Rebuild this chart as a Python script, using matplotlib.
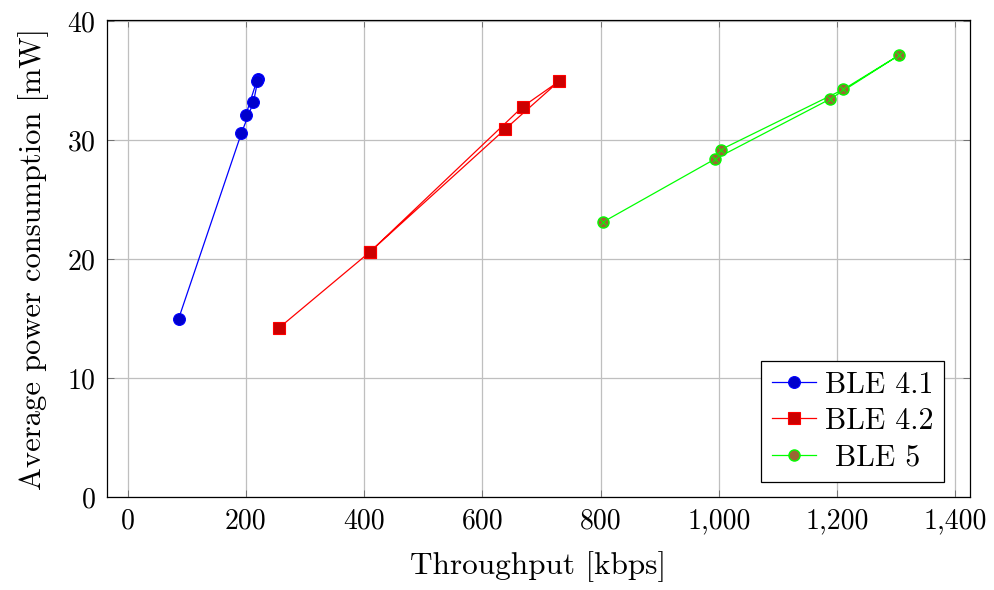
import matplotlib
matplotlib.use("Agg")
import matplotlib.pyplot as plt
from matplotlib.ticker import FuncFormatter

# donnees (debit en kbps, puissance en mW)
ble41_x = [86.3, 192.5, 212.8, 220.6, 218.5, 199.8]
ble41_y = [15.0, 30.6, 33.2, 35.15, 35.0, 32.1]

ble42_x = [255.6, 409.7, 638.0, 729.6, 668.0, 409.7]
ble42_y = [14.2, 20.6, 30.9, 34.95, 32.8, 20.6]

ble5_x = [803.5, 993.0, 1188.0, 1304.7, 1210.4, 1003.3]
ble5_y = [23.1, 28.4, 33.45, 37.14, 34.26, 29.2]

labels = ["BLE 4.1", "BLE 4.2", " BLE 5"]
xticks = [0, 200, 400, 600, 800, 1000, 1200, 1400]
yticks = [0, 10, 20, 30, 40]

plt.rcParams["font.family"] = "serif"
plt.rcParams["font.serif"] = ["cmr10", "DejaVu Serif"]
plt.rcParams["mathtext.fontset"] = "cm"
plt.rcParams["axes.formatter.use_mathtext"] = True

fig = plt.figure(figsize=(9.95, 5.9), dpi=100)
ax = fig.add_axes([0.1075, 0.1576, 0.8675, 0.8085])

ax.plot(ble41_x, ble41_y, color=(0, 0, 1), lw=0.9, marker="o", ms=8.5,
        mfc=(0, 0, 0.8), mec=(0, 0, 1), mew=0.8, label=labels[0], zorder=3)
ax.plot(ble42_x, ble42_y, color=(1, 0, 0), lw=0.9, marker="s", ms=8,
        mfc=(0.8, 0, 0), mec=(1, 0, 0), mew=0.8, label=labels[1], zorder=3)
ax.plot(ble5_x, ble5_y, color=(0, 1, 0), lw=0.9, marker="o", ms=8,
        mfc=(0.6, 0.4, 0.2), mec=(0, 1, 0), mew=1.0, label=labels[2], zorder=3)
# croix du marqueur otimes
ax.plot(ble5_x, ble5_y, ls="none", marker="x", ms=5, mec=(0, 1, 0), mew=0.8, zorder=4)

ax.set_xlim(-35, 1425)
ax.set_ylim(0, 40.1)
ax.set_xticks(xticks)
ax.set_yticks(yticks)
ax.xaxis.set_major_formatter(FuncFormatter(lambda v, p: "{:,}".format(int(v))))
ax.grid(True, color=(0.75, 0.75, 0.75), lw=0.9)
ax.set_axisbelow(True)
ax.tick_params(direction="in", top=True, right=True, length=5, width=0.6,
               color=(0.4, 0.4, 0.4), labelsize=20, pad=8)
for s in ax.spines.values():
    s.set_linewidth(0.9)

ax.set_xlabel("Throughput [kbps]", fontsize=22.5, labelpad=12)
ax.set_ylabel("Average power consumption [mW]", fontsize=22, labelpad=13)

leg = ax.legend(loc="lower right", bbox_to_anchor=(0.97, 0.032), fontsize=21.5,
                fancybox=False, framealpha=1, edgecolor="black", borderaxespad=0,
                handlelength=1.5, labelspacing=0.3, borderpad=0.35, handletextpad=0.3)
leg.get_frame().set_linewidth(0.9)

fig.savefig("out.png", dpi=100)
